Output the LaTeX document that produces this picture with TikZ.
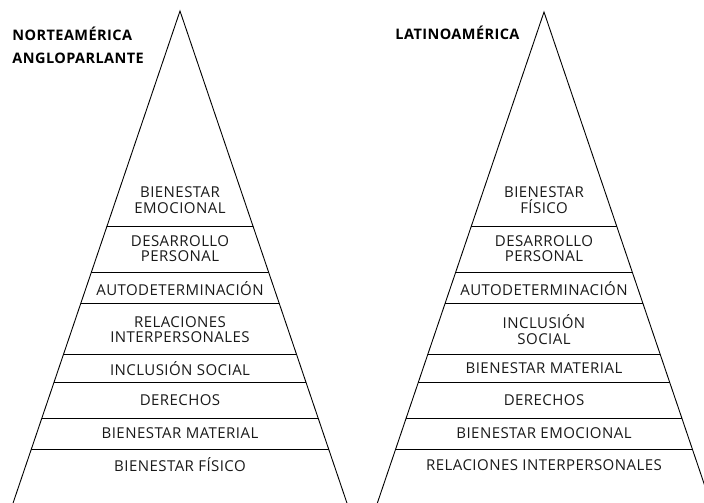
\documentclass[tikz,border=0pt]{standalone}
\usepackage{fontspec}
\setmainfont[LetterSpace=3]{Open Sans}
\usetikzlibrary{calc}

\begin{document}
\begin{tikzpicture}[
  x=1pt,y=-1pt,
  line width=0.9pt,
  levelnode/.style={align=center,inner sep=0pt,text=black!90,
    font=\fontsize{15}{15.5}\selectfont},
  regionnode/.style={anchor=west,align=left,inner sep=0pt,
    font=\fontsize{14.5}{23}\selectfont\bfseries}
]
\useasboundingbox (0,0) rectangle (704,503);

% left pyramid
\coordinate (topA) at (180,11);
\coordinate (baseAl) at (10,512);
\coordinate (baseAr) at (350,512);
\draw (baseAl) -- (topA) -- (baseAr);
\begin{scope}
  \clip (topA) -- (baseAl) -- (baseAr) -- cycle;
  \foreach \y in {226.7,272.7,303.3,354,382.3,418.3,449.3}
    \draw (0,\y) -- (360,\y);
\end{scope}

% right pyramid
\coordinate (topB) at (544,12);
\coordinate (baseBl) at (374.3,512);
\coordinate (baseBr) at (713.7,512);
\draw (baseBl) -- (topB) -- (baseBr);
\begin{scope}
  \clip (topB) -- (baseBl) -- (baseBr) -- cycle;
  \foreach \y in {226.7,272.7,303.3,354,382.3,418.3,449.3}
    \draw (360,\y) -- (720,\y);
\end{scope}

\node[regionnode] (nam) at (12,45) {NORTEAMÉRICA\\ANGLOPARLANTE};
\node[regionnode] (lat) at (395,33.3) {LATINOAMÉRICA};

\node[levelnode] (a1) at (180,200.3) {BIENESTAR\\EMOCIONAL};
\node[levelnode] (a2) at (180,248.5) {DESARROLLO\\PERSONAL};
\node[levelnode] (a3) at (180,288.3) {AUTODETERMINACIÓN};
\node[levelnode] (a4) at (180,329.5) {RELACIONES\\INTERPERSONALES};
\node[levelnode] (a5) at (180,368.3) {INCLUSIÓN SOCIAL};
\node[levelnode] (a6) at (180,400) {DERECHOS};
\node[levelnode] (a7) at (180,432.7) {BIENESTAR MATERIAL};
\node[levelnode] (a8) at (180,465) {BIENESTAR FÍSICO};

\node[levelnode] (b1) at (544,200.3) {BIENESTAR\\FÍSICO};
\node[levelnode] (b2) at (544,248.5) {DESARROLLO\\PERSONAL};
\node[levelnode] (b3) at (544,288.3) {AUTODETERMINACIÓN};
\node[levelnode] (b4) at (544,329.5) {INCLUSIÓN\\SOCIAL};
\node[levelnode] (b5) at (544,368.3) {BIENESTAR MATERIAL};
\node[levelnode] (b6) at (544,400) {DERECHOS};
\node[levelnode] (b7) at (544,432.7) {BIENESTAR EMOCIONAL};
\node[levelnode] (b8) at (544,465) {RELACIONES INTERPERSONALES};

\end{tikzpicture}
\end{document}
